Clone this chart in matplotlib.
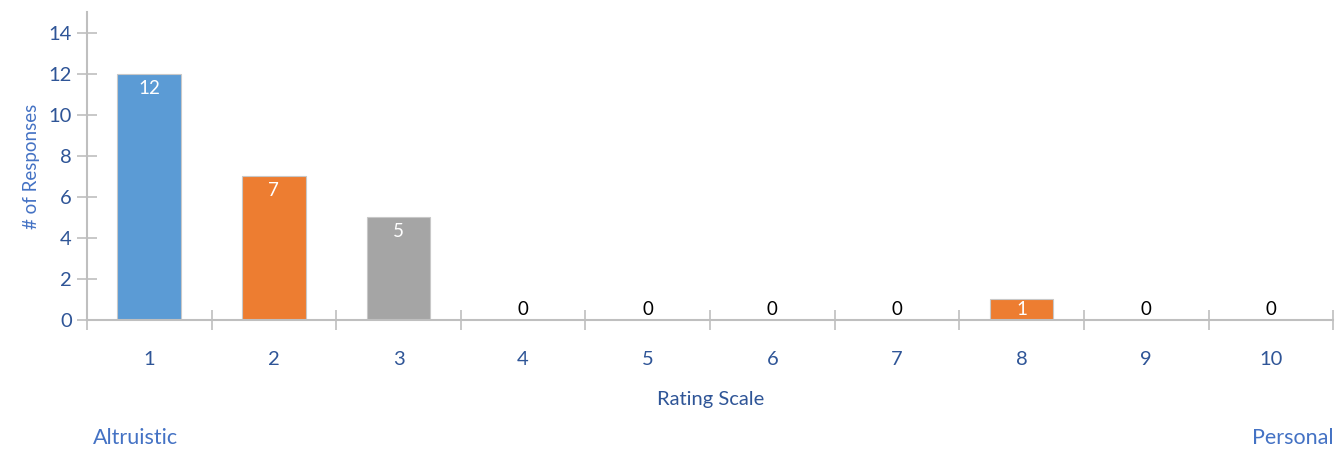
import matplotlib.pyplot as plt
import numpy as np

# Data
ratings = ["1", "2", "3", "4", "5", "6", "7", "8", "9", "10"]
responses = [12, 7, 5, 0, 0, 0, 0, 1, 0, 0]
bar_colors = ["#5b9bd5", "#ed7d31", "#a5a5a5", "#ffc000", "#4472c4",
              "#70ad47", "#264478", "#ed7d31", "#636363", "#997300"]

plt.rcParams["font.family"] = ["Lato", "DejaVu Sans"]
tick_color = "#2f5597"
grid_gray = "#bfbfbf"

fig = plt.figure(figsize=(13.4, 4.49), dpi=100)
ax = fig.add_axes([0.0649, 0.2873, 0.93, 0.686])

x = np.arange(len(ratings))
bars = ax.bar(x, responses, width=0.51, color=bar_colors, edgecolor="#c8c8c8", linewidth=0.8, zorder=2)

ax.set_xlim(-0.5, len(ratings) - 0.5)
ax.set_ylim(0, 15)
ax.set_yticks(range(0, 15, 2))
ax.set_xticks(x)
ax.set_xticklabels(ratings)
# category boundary ticks
ax.set_xticks(np.arange(-0.5, len(ratings)), minor=True)
ax.tick_params(axis="x", which="major", length=0, pad=22, labelsize=14.5, labelcolor=tick_color)
ax.tick_params(axis="x", which="minor", direction="inout", length=14, width=1.2, color=grid_gray)
ax.tick_params(axis="y", direction="inout", length=14, width=1.2, color=grid_gray,
               labelsize=14.5, labelcolor=tick_color, pad=4)

for side in ["top", "right"]:
    ax.spines[side].set_visible(False)
for side in ["left", "bottom"]:
    ax.spines[side].set_color(grid_gray)
    ax.spines[side].set_linewidth(1.5)

# Data labels
for xi, v in zip(x, responses):
    if v > 1:
        ax.text(xi, v - 0.3, str(v), ha="center", va="top", color="white", fontsize=13.5)
    elif v == 1:
        ax.text(xi, v / 2, str(v), ha="center", va="center", color="white", fontsize=13.5)
    else:
        ax.text(xi, 0.1, "0", ha="center", va="bottom", color="black", fontsize=13.5)

ax.set_ylabel("# of Responses", fontsize=13.5, color="#4472c4", labelpad=6)
fig.text(0.530, 1 - 399 / 449, "Rating Scale", ha="center", va="center", fontsize=14.5, color=tick_color)
fig.text(93 / 1340, 1 - 438 / 449, "Altruistic", ha="left", va="center", fontsize=15.5, color="#4472c4")
fig.text(1333 / 1340, 1 - 438 / 449, "Personal", ha="right", va="center", fontsize=15.5, color="#4472c4")

plt.savefig("out.png", dpi=100)
